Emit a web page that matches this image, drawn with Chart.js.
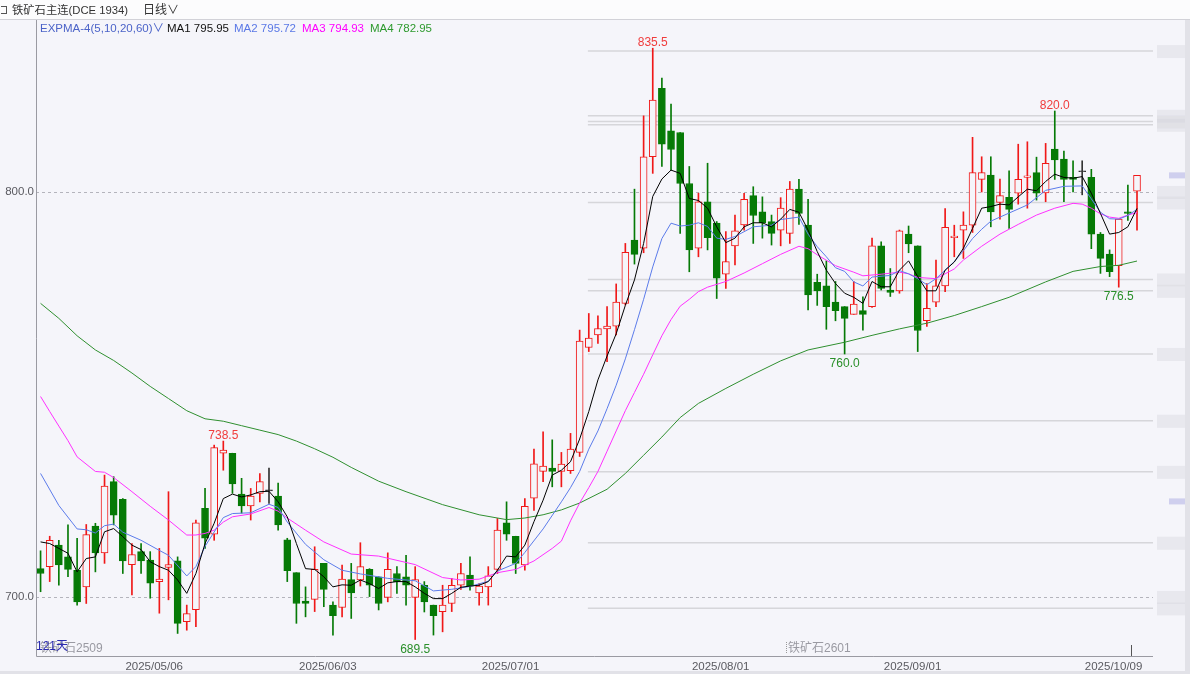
<!DOCTYPE html>
<html>
<head>
<meta charset="utf-8">
<script src="https://cdn.jsdelivr.net/npm/chart.js@4.4.1/dist/chart.umd.min.js"></script>
<style>
body { margin: 0; background: #f5f5fa; }
#wrap { position: relative; width: 1190px; height: 674px; overflow: hidden; background: #f5f5fa;
        font-family: "Liberation Sans", "Noto Sans CJK SC", sans-serif; }
#top { position: absolute; left: 0; top: 0; width: 1190px; height: 19px; background: #fcfcfd; border-bottom: 1px solid #d2d2d8; }
#icon { position: absolute; left: 1px; top: 6px; width: 5px; height: 6px; border: 1px solid #555; border-left: none; }
#foot { position: absolute; left: 0; top: 671px; width: 1190px; height: 3px; background: #e2e2e8; }
canvas { position: absolute; left: 0; top: 0; }
.t { position: absolute; white-space: nowrap; font-size: 12px; line-height: 14px; }
.lg { font-size: 11.5px; top: 21px; }
</style>
</head>
<body>
<div id="wrap">
  <div id="top"><div id="icon"></div></div>
  <div id="foot"></div>
  <canvas id="c" width="1190" height="674"></canvas>
  <div class="t" style="left:12px;top:3px;color:#333;font-size:11.3px">铁矿石主连(DCE 1934)</div>
  <div class="t" style="left:143px;top:3px;color:#333">日线∨</div>
  <div class="t lg" style="left:40px;color:#4b63c8">EXPMA-4(5,10,20,60)∨</div>
  <div class="t lg" style="left:167px;color:#111">MA1 795.95</div>
  <div class="t lg" style="left:234px;color:#5a78e6">MA2 795.72</div>
  <div class="t lg" style="left:302px;color:#f0f">MA3 794.93</div>
  <div class="t lg" style="left:370px;color:#2e9a2e">MA4 782.95</div>
  <div class="t" style="left:40px;top:641px;color:#9a9aa2">铁矿石2509</div>
  <div class="t" style="left:36px;top:639px;color:#2b2bb0">121天</div>
  <div class="t" style="left:788px;top:641px;color:#9a9aa2">铁矿石2601</div>
</div>
<script>
// daily candles, index 0 = first day shown
const open = [707.0,707.5,712.8,709.9,706.6,702.5,717.5,710.9,728.5,724.1,
  708.0,711.2,709.1,703.8,707.3,708.9,693.9,696.9,721.9,715.5,
  735.5,735.5,725.4,722.5,725.6,726.2,724.9,714.1,706.0,699.0,
  699.4,708.3,698.0,697.4,704.3,704.2,706.8,705.0,699.9,705.8,
  705.0,699.9,702.9,698.0,696.4,698.4,702.9,705.4,701.0,702.5,
  706.8,718.3,715.0,707.9,724.4,731.0,731.8,731.0,731.2,735.7,
  761.6,764.7,766.2,766.9,772.5,788.1,786.1,808.7,825.6,815.1,
  814.7,802.1,786.1,797.6,792.3,779.7,786.7,791.9,799.1,795.1,
  792.7,790.6,789.8,800.7,791.8,777.7,776.8,772.8,771.7,769.8,
  770.7,771.7,786.7,775.8,775.6,789.6,786.7,768.2,772.8,776.8,
  788.7,790.6,791.8,803.1,804.2,797.4,798.7,799.7,803.6,804.8,
  799.8,810.6,808.1,803.6,805.0,803.6,789.6,784.7,781.8,795.1,800.2];
const high = [711.4,715.0,714.0,717.8,714.5,717.9,718.2,730.1,729.7,724.3,
  713.2,713.2,711.2,712.0,726.0,709.9,698.0,719.0,726.8,737.5,
  738.5,735.5,729.3,726.8,730.5,731.8,728.1,714.5,706.0,702.5,
  712.4,708.3,698.8,707.9,708.3,713.4,707.0,705.0,710.9,707.5,
  710.3,707.5,703.8,698.0,702.9,704.6,708.3,709.9,703.3,707.5,
  719.4,723.5,715.0,724.3,736.5,740.8,738.8,735.7,740.4,765.9,
  770.0,769.4,771.7,777.3,787.3,800.7,818.8,835.5,828.1,821.7,
  814.7,806.3,799.7,807.1,792.7,790.2,794.3,799.7,801.3,798.8,
  794.3,798.6,802.6,803.1,798.2,779.7,783.0,777.9,771.7,777.9,
  774.1,788.6,787.7,781.1,790.6,791.6,786.7,777.4,783.2,795.9,
  791.8,795.1,813.5,808.7,808.7,803.2,805.2,811.8,812.4,808.6,
  812.0,820.0,810.1,807.7,807.7,805.6,790.0,785.7,793.3,801.7,804.1];
const low = [701.3,703.8,702.9,705.0,698.0,698.4,706.2,708.3,717.8,705.8,
  700.5,705.8,699.7,696.0,699.3,691.0,691.8,692.7,712.0,714.0,
  731.3,725.6,720.7,719.0,723.5,723.1,716.5,703.8,693.5,695.1,
  696.4,697.6,690.6,695.1,694.7,702.7,700.1,696.8,698.8,700.9,
  698.0,689.5,696.3,690.6,691.4,696.4,701.9,701.7,698.0,698.0,
  705.8,714.0,705.8,706.6,721.4,728.5,727.2,727.2,730.5,734.7,
  760.6,762.6,758.1,764.7,772.1,782.2,785.0,804.6,806.3,805.4,
  789.8,780.3,784.0,785.7,773.7,776.2,782.0,790.6,787.3,788.6,
  786.9,786.7,787.3,792.0,770.9,772.0,766.1,768.2,760.0,769.8,
  765.9,771.5,775.8,774.2,775.0,785.0,760.6,766.8,771.7,775.4,
  784.0,783.6,790.0,800.0,791.4,793.3,791.0,797.0,796.0,798.0,
  797.6,803.1,797.6,800.0,799.3,786.0,779.9,779.1,776.5,793.0,790.6];
const close = [705.8,714.0,707.9,706.8,698.8,715.4,710.9,727.4,720.2,708.9,
  710.5,708.9,703.4,704.4,708.0,693.5,695.9,718.3,714.5,736.9,
  736.3,727.9,722.5,724.9,728.5,726.2,717.8,706.5,698.4,698.4,
  706.8,701.9,695.4,704.4,701.0,707.5,702.9,698.4,706.8,703.8,
  702.9,704.3,698.8,695.4,698.0,702.9,705.8,702.7,702.7,705.2,
  716.5,715.5,708.3,722.4,732.9,732.3,731.0,732.8,736.5,763.2,
  763.9,766.3,766.9,772.8,785.1,784.6,808.7,822.7,811.8,810.5,
  802.1,785.7,797.6,788.7,778.7,782.8,790.4,798.2,794.2,792.4,
  789.8,796.0,800.7,794.7,774.6,775.6,771.7,770.7,768.8,772.3,
  769.8,786.7,776.2,775.2,790.4,787.2,765.8,771.3,776.8,791.3,
  789.1,791.8,804.8,804.8,795.1,799.1,795.7,803.1,804.0,799.7,
  807.1,807.9,803.1,803.1,805.0,789.6,783.6,780.3,793.3,794.7,804.1];

// EXPMA lines; MA1 per day, the smoother ones as [day, value]
const ma1 = [713.6,713.2,712.0,710.8,706.2,709.5,709.9,716.1,716.9,714.9,
  712.8,711.7,708.7,707.5,706.6,704.2,700.9,705.8,713.2,718.2,
  724.3,725.4,724.7,725.2,726.0,726.1,723.5,719.8,713.2,707.0,
  706.8,705.0,702.5,703.0,702.9,704.2,703.3,702.1,703.5,703.8,
  703.8,702.5,700.9,699.6,699.6,700.9,702.4,702.7,702.9,703.8,
  706.6,710.1,709.9,712.8,718.6,723.9,730.1,731.3,733.4,739.0,
  745.8,753.6,759.5,765.0,772.0,778.3,787.3,798.9,803.2,805.4,
  804.6,798.4,797.9,796.0,791.4,787.5,788.6,791.4,792.4,792.4,
  791.4,793.3,795.7,795.0,790.6,785.3,780.7,777.4,775.0,774.0,
  772.5,777.9,776.6,776.6,780.7,783.0,779.1,775.6,775.6,780.7,
  782.7,786.1,791.0,796.0,796.4,797.0,796.8,798.8,800.7,800.3,
  802.6,804.4,803.6,803.4,803.8,799.7,794.7,789.6,790.0,791.4,795.95];
const ma2 = [[0,730.5],[2,722.6],[4,716.8],[5,716.6],[6,715.8],[7,717.6],[8,718.0],[9,716.0],
  [11,714.0],[13,711.5],[14,710.3],[16,705.2],[17,707.5],[18,712.5],[20,719.6],[21,720.6],
  [23,720.8],[25,722.9],[26,722.1],[27,718.5],[29,713.0],[31,709.2],[33,706.6],[35,705.7],
  [38,704.6],[41,704.0],[43,701.5],[45,701.9],[47,702.6],[49,703.9],[50,706.4],[52,708.3],
  [53,711.0],[55,716.8],[57,723.5],[58,727.0],[59,731.0],[60,736.5],[61,741.0],[62,746.5],
  [63,752.3],[64,758.8],[65,766.0],[66,773.5],[67,781.5],[68,788.5],[69,792.3],[70,791.6],
  [71,791.8],[72,792.4],[73,791.5],[74,788.6],[75,788.3],[76,789.0],[78,791.4],[80,791.8],
  [81,793.2],[83,793.8],[84,789.6],[85,786.5],[86,784.0],[87,781.3],[88,780.4],[89,777.8],
  [90,776.8],[91,779.0],[93,779.4],[94,780.6],[95,779.8],[96,778.6],[97,777.1],[98,778.6],
  [99,780.7],[100,782.8],[101,785.5],[102,788.5],[103,790.8],[104,792.8],[106,794.8],[108,796.8],
  [110,800.4],[112,801.4],[114,801.5],[115,798.3],[116,795.0],[117,793.4],[118,793.3],[119,794.2],[120,795.72]];
const ma3 = [[0,749.5],[1,745.8],[2,742.2],[3,738.6],[4,734.6],[6,731.0],[7,730.8],[8,729.5],
  [10,726.0],[12,722.4],[14,719.0],[16,715.3],[17,715.3],[18,715.7],[19,716.5],[20,718.5],
  [21,719.8],[23,720.5],[25,722.1],[26,721.2],[27,719.5],[29,716.5],[31,713.6],[34,710.6],
  [37,710.1],[41,708.0],[44,704.8],[46,704.2],[48,704.4],[50,706.0],[52,706.8],[54,708.9],
  [56,712.0],[57,713.8],[58,718.8],[59,723.2],[60,727.0],[61,731.0],[62,736.0],[63,741.0],
  [64,746.0],[65,750.5],[66,755.0],[67,759.8],[68,764.5],[69,768.5],[70,771.8],[71,773.5],
  [72,775.4],[73,776.5],[75,777.9],[77,780.0],[79,782.3],[81,784.6],[83,786.6],[84,786.0],
  [85,784.5],[87,781.8],[89,780.2],[90,779.3],[92,779.7],[94,780.2],[95,779.8],[96,778.9],
  [98,778.6],[99,779.8],[100,781.0],[101,783.2],[103,786.6],[105,789.6],[107,792.0],[109,794.3],
  [111,796.0],[113,797.2],[114,797.0],[115,796.0],[116,794.6],[117,793.8],[118,793.5],[119,794.3],[120,794.93]];
const ma4 = [[0,772.5],[2,768.8],[4,764.5],[6,761.0],[8,758.4],[10,755.3],[12,752.0],[14,749.0],
  [16,746.0],[18,744.0],[20,743.4],[22,742.3],[24,741.2],[26,740.1],[28,738.5],[30,736.6],
  [32,734.5],[34,732.0],[37,728.6],[40,726.0],[44,722.8],[48,720.3],[51,719.1],[53,719.5],
  [55,720.3],[57,721.5],[59,723.2],[62,726.6],[64,730.5],[66,735.0],[68,739.5],[70,744.3],
  [72,747.8],[75,751.5],[78,755.0],[81,758.3],[84,761.0],[88,762.9],[91,764.6],[94,766.2],
  [97,767.6],[100,769.5],[103,771.7],[106,774.0],[110,777.8],[113,780.4],[116,781.6],[118,781.9],[120,782.95]];

const tickIdx = [12, 31, 51, 74, 95, 117];
const tickText = ['2025/05/06', '2025/06/03', '2025/07/01', '2025/08/01', '2025/09/01', '2025/10/09'];
const yTicks = [700, 800];
const levels = [834.8, 818.8, 817.4, 816.6, 797.4, 778.4, 775.6, 760.0, 743.5, 730.9, 713.4, 697.2];
const levelFrom = 59.9;
const markIdx = [67, 20, 111, 41, 88, 118];
const markVal = [835.5, 738.5, 820.0, 689.5, 760.0, 776.5];
const markHigh = [true, true, true, false, false, false];

const UP = '#f01818', DOWN = '#067a06', FLAT = '#333', BG = '#f5f5fa';
const tone = open.map((o, i) => close[i] > o ? UP : close[i] < o ? DOWN : FLAT);

const decor = {
  id: 'decor',
  beforeDatasetsDraw(chart) {
    const { ctx, chartArea: a, scales: { x, y } } = chart;
    ctx.save();
    ctx.strokeStyle = '#d6d6da';
    ctx.lineWidth = 1.5;
    const x0 = x.getPixelForValue(levelFrom);
    levels.forEach(v => {
      const py = y.getPixelForValue(v);
      ctx.beginPath(); ctx.moveTo(x0, py); ctx.lineTo(a.right, py); ctx.stroke();
    });
    ctx.lineWidth = 1;
    ctx.strokeStyle = '#b4b4bc';
    ctx.setLineDash([3, 3]);
    yTicks.forEach(v => {
      const py = Math.round(y.getPixelForValue(v)) + 0.5;
      ctx.beginPath(); ctx.moveTo(a.left, py); ctx.lineTo(a.right, py); ctx.stroke();
    });
    ctx.restore();
  },
  afterDatasetsDraw(chart) {
    const { ctx, chartArea: a, scales: { x, y } } = chart;
    ctx.save();
    // right side price strip (blurred in the original)
    ctx.fillStyle = 'rgba(212,212,220,0.4)';
    levels.concat(yTicks).forEach(v => {
      const py = y.getPixelForValue(v);
      ctx.fillRect(a.right + 4, py - 6, 33, 13);
    });
    ctx.fillStyle = 'rgba(170,170,225,0.5)';
    [close[close.length - 1], 723.6].forEach(v => {
      const py = y.getPixelForValue(v);
      ctx.fillRect(a.right + 16, py - 3, 21, 6);
    });
    ctx.fillStyle = '#e2e2e8';
    ctx.fillRect(1185, 20, 5, 651);

    // frame
    ctx.strokeStyle = '#9a9aa2';
    ctx.lineWidth = 1;
    ctx.beginPath();
    ctx.moveTo(Math.round(a.left) + 0.5, 20);
    ctx.lineTo(Math.round(a.left) + 0.5, Math.round(a.bottom) + 0.5);
    ctx.lineTo(a.right, Math.round(a.bottom) + 0.5);
    ctx.stroke();

    // cursor mark and contract roll marker
    ctx.strokeStyle = '#555';
    const cx = Math.round(x.getPixelForValue(119.3)) + 0.5;
    ctx.beginPath(); ctx.moveTo(cx, a.bottom - 11); ctx.lineTo(cx, a.bottom); ctx.stroke();
    ctx.strokeStyle = '#999';
    ctx.setLineDash([1, 1]);
    const rx = Math.round(x.getPixelForValue(81.6)) + 0.5;
    ctx.beginPath(); ctx.moveTo(rx, a.bottom - 14); ctx.lineTo(rx, a.bottom - 2); ctx.stroke();
    ctx.setLineDash([]);

    // high / low marks
    ctx.font = '12px "Liberation Sans", sans-serif';
    ctx.textAlign = 'center';
    markIdx.forEach((d, k) => {
      const px = x.getPixelForValue(d);
      const py = y.getPixelForValue(markVal[k]);
      if (markHigh[k]) {
        ctx.fillStyle = '#f03c3c';
        ctx.textBaseline = 'alphabetic';
        ctx.fillText(markVal[k].toFixed(1), px, py - 2);
      } else {
        ctx.fillStyle = '#2a8f2a';
        ctx.textBaseline = 'top';
        ctx.fillText(markVal[k].toFixed(1), px, py + 4);
      }
    });
    ctx.restore();
  }
};

const line = (pts, color) => ({
  type: 'line', data: pts, borderColor: color, borderWidth: 1,
  pointRadius: 0, tension: 0, order: 0
});

new Chart(document.getElementById('c'), {
  type: 'bar',
  data: {
    datasets: [
      line(ma1.map((v, i) => ({ x: i, y: v })), '#000'),
      line(ma2.map(p => ({ x: p[0], y: p[1] })), '#5b7bea'),
      line(ma3.map(p => ({ x: p[0], y: p[1] })), '#ff30ff'),
      line(ma4.map(p => ({ x: p[0], y: p[1] })), '#2f8f2f'),
      {
        data: open.map((o, i) => ({ x: i, y: [o, close[i]] })),
        backgroundColor: tone.map(c => c === UP ? BG : c),
        borderColor: tone,
        borderWidth: 1, borderSkipped: false,
        barThickness: 7, minBarLength: 1, grouped: false, order: 1
      },
      {
        data: low.map((l, i) => ({ x: i, y: [l, high[i]] })),
        backgroundColor: tone,
        borderWidth: 0, barThickness: 1, grouped: false, order: 2
      }
    ]
  },
  options: {
    responsive: false,
    animation: false,
    events: [],
    layout: { padding: { top: 37, right: 37, left: 0, bottom: 0 } },
    plugins: { legend: { display: false }, tooltip: { enabled: false } },
    scales: {
      x: {
        type: 'linear', min: -0.5, max: 121.75, offset: false,
        grid: { display: false, drawTicks: false }, border: { display: false },
        afterBuildTicks: s => { s.ticks = tickIdx.map(v => ({ value: v })); },
        afterFit: s => { s.height = 18; },
        ticks: {
          autoSkip: false, maxRotation: 0, padding: 4, labelOffset: 4,
          color: '#5a5a60', font: { size: 11.5, family: '"Liberation Sans", sans-serif' },
          callback: v => tickText[tickIdx.indexOf(v)]
        }
      },
      y: {
        min: 685.43, max: 838.27,
        grid: { display: false, drawTicks: false }, border: { display: false },
        afterBuildTicks: s => { s.ticks = yTicks.map(v => ({ value: v })); },
        afterFit: s => { s.width = 36; },
        ticks: {
          padding: 2, color: '#5a5a60', font: { size: 11.5, family: '"Liberation Sans", sans-serif' },
          callback: v => v.toFixed(1)
        }
      }
    }
  },
  plugins: [decor]
});
</script>
</body>
</html>
